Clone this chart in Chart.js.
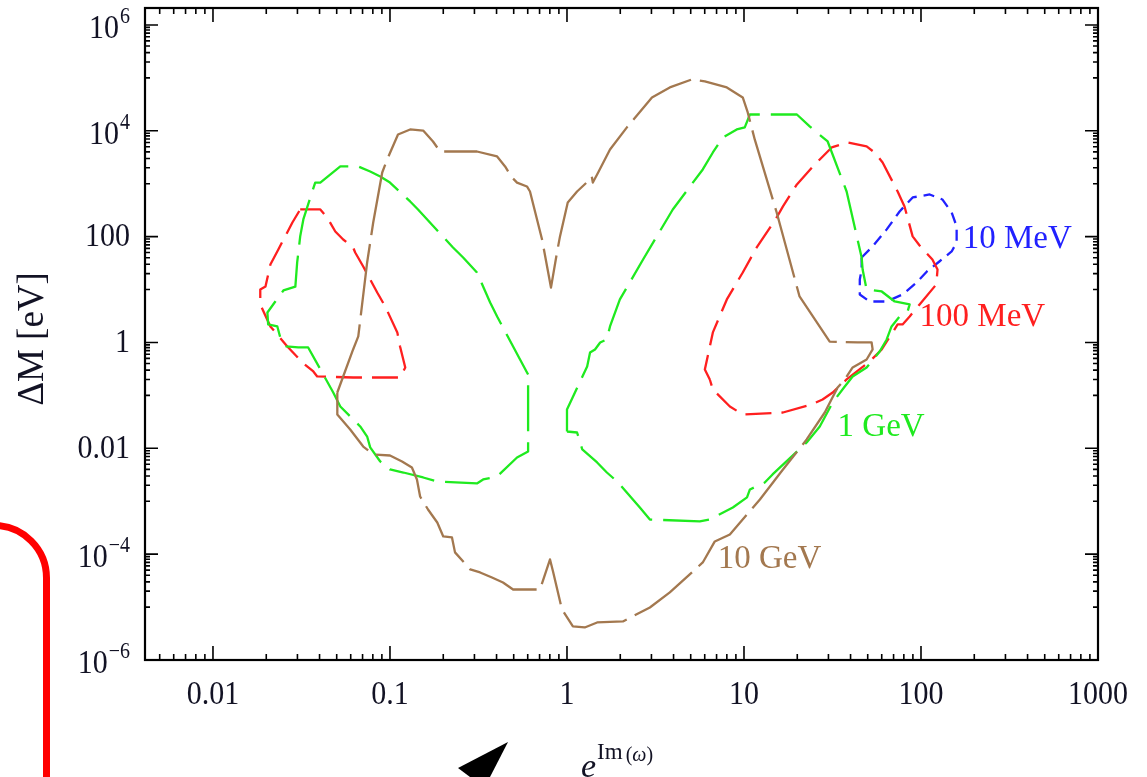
<!DOCTYPE html>
<html>
<head>
<meta charset="utf-8">
<script src="https://cdn.jsdelivr.net/npm/chart.js@4.4.1/dist/chart.umd.min.js"></script>
<style>
  html, body { margin: 0; padding: 0; background: #fff; overflow: hidden; }
  #wrap { position: relative; width: 1147px; height: 777px; overflow: hidden; }
  /* red marker frame and black arrowhead drawn over the figure */
  #redFrame {
    position: absolute; left: -100px; top: 522px; width: 150px; height: 400px;
    box-sizing: border-box; border: 7px solid #ff0000; border-radius: 0 56px 0 0;
  }
  #arrowHead {
    position: absolute; left: 455px; top: 740px; width: 60px; height: 40px; background: #000;
    clip-path: polygon(53px 2px, 3px 28px, 15px 37px, 35px 37px);
  }
</style>
</head>
<body>
<div id="wrap">
  <canvas id="chart" width="1147" height="777"></canvas>
  <div id="redFrame"></div>
  <div id="arrowHead"></div>
</div>
<script>
// 10 GeV contour (brown), one closed loop
const gev10X = [0.0504, 0.0619, 0.0662, 0.0743, 0.0804, 0.0904, 0.0964, 0.111, 0.130, 0.154, 0.175, 0.192, 0.310, 0.403, 0.447, 0.489, 0.522, 0.594, 0.618, 0.723, 0.812, 0.878, 0.913, 1.01, 1.14, 1.31, 1.38, 1.40, 1.50, 1.75, 2.18, 3.02, 3.81, 5.07, 6.01, 8.00, 9.84, 10.5, 11.5, 15.3, 20.6, 30.5, 43.9, 52.6, 53.3, 49.3, 41.1, 37.1, 33.8, 28.6, 22.6, 16.6, 12.3, 8.32, 6.84, 5.85, 3.81, 2.94, 2.07, 1.48, 1.26, 1.08, 0.937, 0.834, 0.802, 0.704, 0.496, 0.435, 0.377, 0.323, 0.284, 0.233, 0.224, 0.200, 0.185, 0.164, 0.148, 0.142, 0.133, 0.117, 0.100, 0.0804, 0.0706, 0.0596, 0.0504];
const gev10Y = [0.1135, 0.738, 1.30, 32.5, 185, 1630, 2870, 8510, 10600, 10100, 6280, 4060, 4060, 3270, 2120, 1310, 1050, 887, 713, 88.3, 10.9, 50.2, 101, 442, 713, 1100, 1370, 1050, 1630, 4440, 11600, 42700, 65900, 93300, 85500, 65900, 42700, 22200, 6860, 286, 7.40, 1.04, 1.00, 1.00, 0.738, 0.477, 0.337, 0.200, 0.141, 0.0475, 0.0147, 0.00398, 0.00108, 0.000236, 0.000174, 6.97e-5, 1.89e-5, 9.82e-6, 5.35e-6, 5.12e-6, 4.12e-6, 4.30e-6, 9.01e-6, 4.71e-5, 7.94e-5, 2.15e-5, 2.15e-5, 2.92e-5, 3.62e-5, 4.51e-5, 5.14e-5, 1.08e-4, 2.07e-4, 2.16e-4, 3.97e-4, 6.98e-4, 1.23e-3, 2.58e-3, 4.35e-3, 5.64e-3, 7.32e-3, 7.65e-3, 0.0108, 0.0227, 0.0436];

// 1 GeV contour (green), two loops
const gev1LeftX = [0.603, 0.543, 0.403, 0.368, 0.310, 0.259, 0.227, 0.144, 0.130, 0.100, 0.0881, 0.0773, 0.0662, 0.0524, 0.0404, 0.0378, 0.0355, 0.0324, 0.0311, 0.0299, 0.0292, 0.0250, 0.0225, 0.0203, 0.0205, 0.0231, 0.0240, 0.0259, 0.0303, 0.0345, 0.0478, 0.0524, 0.0679, 0.0743, 0.0773, 0.0881, 0.100, 0.119, 0.154, 0.185, 0.310, 0.336, 0.403, 0.522, 0.603];
const gev1LeftY = [0.248, 0.477, 3.10, 5.70, 21.0, 40.4, 62.4, 326, 462, 1050, 1370, 1700, 2120, 2120, 1050, 1050, 550, 211, 101, 32.5, 11.4, 9.61, 5.95, 3.69, 2.19, 2.01, 1.24, 0.840, 0.805, 0.805, 0.1135, 0.0618, 0.0259, 0.0167, 0.0104, 0.00564, 0.00398, 0.00349, 0.00281, 0.00236, 0.00217, 0.00258, 0.00294, 0.00671, 0.00871];
const gev1RightX = [1.00, 1.00, 1.30, 1.35, 1.44, 1.54, 1.68, 1.75, 1.99, 2.69, 3.96, 5.85, 6.67, 7.59, 9.10, 10.1, 10.8, 19.9, 23.5, 29.7, 38.0, 46.2, 46.8, 49.3, 60.0, 71.0, 86.3, 84.0, 75.7, 68.2, 64.0, 58.4, 49.3, 41.1, 37.1, 31.7, 26.8, 22.6, 14.5, 13.1, 10.8, 10.4, 8.65, 6.41, 5.63, 2.94, 2.58, 1.92, 1.68, 1.48, 1.22, 1.14];
const gev1RightY = [0.0208, 0.0542, 0.352, 0.647, 0.738, 1.00, 1.14, 2.01, 6.50, 37.0, 326, 1860, 3890, 7480, 10600, 11600, 20300, 20300, 12100, 6280, 713, 40.4, 23.9, 10.0, 9.20, 5.95, 5.23, 3.85, 3.10, 2.01, 1.14, 0.676, 0.337, 0.228, 0.147, 0.0735, 0.0259, 0.0129, 0.00321, 0.00226, 0.00167, 0.00118, 0.000762, 0.000452, 0.000415, 0.000452, 0.000762, 0.00236, 0.00349, 0.00540, 0.00951, 0.0199];

// 100 MeV contour (red), two loops
const mev100LeftX = [0.0311, 0.0404, 0.0442, 0.0491, 0.0544, 0.0619, 0.0636, 0.0706, 0.0847, 0.0940, 0.110, 0.114, 0.122, 0.114, 0.0619, 0.0388, 0.0369, 0.0320, 0.0263, 0.0211, 0.0185, 0.0185, 0.0198, 0.0211, 0.0234, 0.0281];
const mev100LeftY = [326, 326, 230, 125, 88.3, 62.4, 50.2, 27.3, 8.81, 4.79, 1.55, 0.840, 0.337, 0.218, 0.218, 0.228, 0.283, 0.419, 0.840, 2.01, 5.23, 10.0, 11.4, 29.8, 57.2, 185];
const mev100RightX = [6.41, 6.01, 6.67, 8.00, 9.84, 11.8, 15.3, 16.6, 19.9, 24.5, 31.3, 38.5, 49.3, 54.7, 60.7, 73.8, 80.7, 89.7, 98.2, 116, 124, 122, 98.2, 86.3, 78.7, 73.8, 60.0, 51.3, 38.0, 31.7, 27.8, 24.1, 16.6, 9.84, 8.32, 6.67];
const mev100RightY = [0.200, 0.309, 1.55, 6.50, 21.0, 62.4, 230, 372, 968, 2120, 4840, 6010, 5060, 3890, 2520, 713, 372, 101, 68.1, 37.0, 23.9, 12.5, 5.23, 3.10, 2.19, 2.19, 0.738, 0.438, 0.200, 0.1135, 0.0838, 0.0673, 0.0475, 0.0436, 0.0618, 0.129];

// 10 MeV contour (blue)
const mev10X = [46.2, 53.3, 64.0, 75.7, 89.7, 112, 132, 149, 159, 159, 149, 127, 108, 94.4, 78.7, 64.0, 51.3, 45.1, 45.1, 46.2];
const mev10Y = [40.4, 65.2, 137, 299, 550, 626, 504, 286, 156, 77.6, 52.5, 33.9, 22.0, 13.6, 8.07, 5.95, 5.95, 8.07, 15.5, 23.9];

// curve labels, anchored (left, middle) at data coordinates
const curveLabels = ['10 MeV', '100 MeV', '1 GeV', '10 GeV'];
const curveLabelX = [172, 98.2, 33.8, 7.11];
const curveLabelY = [88.3, 2.97, 0.0248, 7.94e-5];

// axis ticks
const xTickValues = [0.01, 0.1, 1, 10, 100, 1000];
const xTickLabels = ['0.01', '0.1', '1', '10', '100', '1000'];
const yTickValues = [1e6, 1e4, 100, 1, 0.01, 1e-4, 1e-6];
const yTickBase = ['10', '10', '100', '1', '0.01', '10', '10'];
const yTickExp = ['6', '4', '', '', '', '\u22124', '\u22126'];

const xMin = 0.00413, xMax = 1000;
const yMin = 1e-6, yMax = 2.09e6;

const BROWN = '#a3784f', GREEN = '#1fea1f', RED = '#ff1f1f', BLUE = '#2121ff';
const labelColors = [BLUE, RED, GREEN, BROWN];
const SERIF = '"Liberation Serif", "Times New Roman", serif';
const TEXT = '#121224';

function loop(xs, ys) {
  const pts = xs.map((x, i) => ({ x: x, y: ys[i] }));
  pts.push({ x: xs[0], y: ys[0] });
  return pts;
}

function curve(label, xs, ys, color, dash) {
  return {
    label: label,
    data: loop(xs, ys),
    showLine: true,
    borderColor: color,
    backgroundColor: color,
    borderWidth: 2.3,
    borderDash: dash,
    borderJoinStyle: 'round',
    pointRadius: 0,
    tension: 0,
    fill: false
  };
}

// draws text stretched a little vertically, like the scanned figure
function tallText(ctx, text, x, y, sy) {
  ctx.save();
  ctx.translate(x, y);
  ctx.scale(1, sy);
  ctx.fillText(text, 0, 0);
  ctx.restore();
}

const frameAndLabels = {
  id: 'frameAndLabels',
  afterDraw(chart) {
    const { ctx, chartArea: a, scales } = chart;
    const xs = scales.x, ys = scales.y;
    ctx.save();

    // inward ticks on all four sides
    ctx.strokeStyle = '#000';
    ctx.lineWidth = 1.6;
    ctx.beginPath();
    for (let n = -3; n <= 3; n++) {
      for (let k = 1; k <= 9; k++) {
        const v = k * Math.pow(10, n);
        if (v < xs.min || v > xs.max * 1.0001) continue;
        const px = xs.getPixelForValue(v);
        const len = k === 1 ? 14 : 6;
        ctx.moveTo(px, a.bottom); ctx.lineTo(px, a.bottom - len);
        ctx.moveTo(px, a.top); ctx.lineTo(px, a.top + len);
      }
    }
    for (let m = -3; m <= 3; m++) {
      const major = Math.pow(10, 2 * m);
      if (major >= ys.min * 0.9999 && major <= ys.max) {
        const py = ys.getPixelForValue(major);
        ctx.moveTo(a.left, py); ctx.lineTo(a.left + 13, py);
        ctx.moveTo(a.right, py); ctx.lineTo(a.right - 13, py);
      }
      for (let k = 1; k <= 9; k++) {
        const v = k * Math.pow(10, 2 * m - 1);
        if (v < ys.min * 0.9999 || v > ys.max) continue;
        const py = ys.getPixelForValue(v);
        ctx.moveTo(a.left, py); ctx.lineTo(a.left + 5, py);
        ctx.moveTo(a.right, py); ctx.lineTo(a.right - 5, py);
      }
    }
    ctx.stroke();

    // frame
    ctx.lineWidth = 2.2;
    ctx.strokeRect(a.left, a.top, a.right - a.left, a.bottom - a.top);

    // x tick labels
    ctx.fillStyle = TEXT;
    ctx.font = '30px ' + SERIF;
    ctx.textAlign = 'center';
    ctx.textBaseline = 'middle';
    xTickValues.forEach((v, i) => {
      tallText(ctx, xTickLabels[i], xs.getPixelForValue(v), a.bottom + 35, 1.12);
    });

    // y tick labels (with superscript exponents)
    const rx = a.left - 15;
    yTickValues.forEach((v, i) => {
      const py = ys.getPixelForValue(v);
      if (yTickExp[i]) {
        ctx.font = '20px ' + SERIF;
        const ew = ctx.measureText(yTickExp[i]).width;
        ctx.textAlign = 'left';
        tallText(ctx, yTickExp[i], rx - ew, py - 8, 1.12);
        ctx.font = '30px ' + SERIF;
        ctx.textAlign = 'right';
        tallText(ctx, yTickBase[i], rx - ew - 1, py + 4, 1.12);
      } else {
        ctx.font = '30px ' + SERIF;
        ctx.textAlign = 'right';
        tallText(ctx, yTickBase[i], rx, py + 1, 1.12);
      }
    });

    // y axis title
    ctx.save();
    ctx.translate(33, (a.top + a.bottom) / 2 + 5);
    ctx.rotate(-Math.PI / 2);
    ctx.font = '37px ' + SERIF;
    ctx.textAlign = 'center';
    ctx.fillText('\u0394M [eV]', 0, 0);
    ctx.restore();

    // x axis title: e^{Im(ω)}
    ctx.textAlign = 'left';
    ctx.textBaseline = 'alphabetic';
    let tx = 581;
    ctx.font = 'italic 34px ' + SERIF;
    ctx.fillText('e', tx, 777);
    tx += ctx.measureText('e').width + 1;
    ctx.font = '23px ' + SERIF;
    ctx.fillText('Im', tx, 759);
    tx += ctx.measureText('Im').width + 3;
    ctx.font = '20px ' + SERIF;
    ctx.fillText('(', tx, 761);
    tx += ctx.measureText('(').width;
    ctx.font = 'italic 20px ' + SERIF;
    ctx.fillText('\u03c9', tx, 761);
    tx += ctx.measureText('\u03c9').width;
    ctx.font = '20px ' + SERIF;
    ctx.fillText(')', tx, 761);

    // curve labels
    ctx.font = '33px ' + SERIF;
    ctx.textBaseline = 'middle';
    curveLabels.forEach((t, i) => {
      ctx.fillStyle = labelColors[i];
      ctx.fillText(t, xs.getPixelForValue(curveLabelX[i]), ys.getPixelForValue(curveLabelY[i]));
    });

    ctx.restore();
  }
};

new Chart(document.getElementById('chart'), {
  type: 'scatter',
  data: {
    datasets: [
      curve('10 GeV', gev10X, gev10Y, BROWN, [72, 9]),
      curve('1 GeV', gev1LeftX, gev1LeftY, GREEN, [46, 11]),
      curve('1 GeV', gev1RightX, gev1RightY, GREEN, [46, 11]),
      curve('100 MeV', mev100LeftX, mev100LeftY, RED, [26, 10]),
      curve('100 MeV', mev100RightX, mev100RightY, RED, [26, 10]),
      curve('10 MeV', mev10X, mev10Y, BLUE, [11, 7])
    ]
  },
  options: {
    responsive: false,
    animation: false,
    devicePixelRatio: 1,
    layout: { padding: { left: 145, top: 8, right: 49, bottom: 117 } },
    scales: {
      x: { type: 'logarithmic', min: xMin, max: xMax, display: false },
      y: { type: 'logarithmic', min: yMin, max: yMax, display: false }
    },
    plugins: {
      legend: { display: false },
      tooltip: { enabled: false }
    }
  },
  plugins: [frameAndLabels]
});
</script>
</body>
</html>
